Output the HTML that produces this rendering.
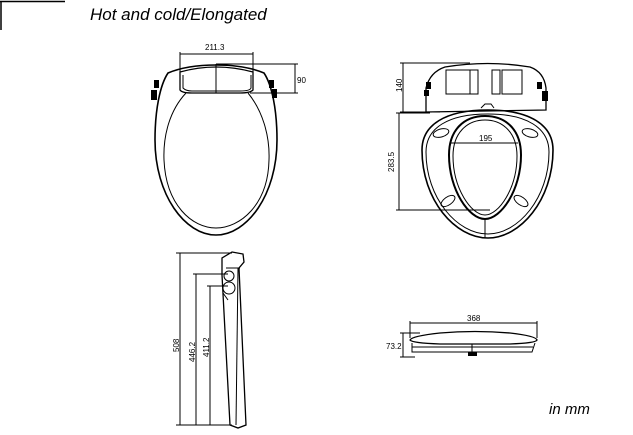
<!DOCTYPE html>
<html><head><style>
html,body{margin:0;padding:0;background:#fff;}
svg{display:block;}
text{font-family:"Liberation Sans",Arial,sans-serif;fill:#000;}
</style></head><body>
<svg width="633" height="435" viewBox="0 0 633 435" xmlns="http://www.w3.org/2000/svg">
<line x1="0" y1="1.5" x2="65" y2="1.5" stroke="#000" stroke-width="1.5"/>
<line x1="1" y1="1" x2="1" y2="30" stroke="#000" stroke-width="1.5"/>
<text x="90" y="20" font-size="17" font-style="italic">Hot and cold/Elongated</text>
<text x="549" y="414" font-size="15" font-style="italic">in mm</text>

<g fill="none" stroke="#000" stroke-width="1">
<!-- top-left seat -->
<path d="M216 65 Q245 65 264 73 C272 85 277 110 277 140 C277 195 247 235 216 235 C185 235 155 195 155 140 C155 110 160 85 168 73 Q187 65 216 65Z" stroke-width="1.6"/>
<path d="M186 93 C170 110 163 135 164 160 C166 205 192 228 216 228 C240 228 268 205 269 160 C270 135 262 110 248 93"/>
<path d="M180 72 Q216 62 253 72 L253 90 Q250 93 240 93 L192 93 Q182 93 180 90Z" stroke-width="1.3"/>
<path d="M183 75 L183 88 Q186 91 192 91 L240 91 Q250 91 251 88 L251 75"/>
<line x1="216" y1="64" x2="216" y2="93"/>
<line x1="180" y1="54" x2="253" y2="54"/><line x1="180" y1="52" x2="180" y2="75"/><line x1="253" y1="52" x2="253" y2="75"/>
<line x1="216" y1="64" x2="298" y2="64"/><line x1="250" y1="93" x2="298" y2="93"/>
<line x1="295" y1="64" x2="295" y2="93"/>
</g>
<rect x="154" y="80" width="5" height="8" fill="#000"/><rect x="151" y="90" width="6" height="10" fill="#000"/>
<rect x="269" y="80" width="5" height="8" fill="#000"/><rect x="272" y="89" width="5" height="9" fill="#000"/>
<text x="205" y="50" font-size="8">211.3</text>
<text x="297" y="83" font-size="8">90</text>

<!-- top-right seat -->
<g fill="none" stroke="#000" stroke-width="1">
<path d="M488 110 C530 110 553 125 553 150 C553 200 520 238 488 238 C455 238 422 200 422 150 C422 125 445 110 488 110Z" stroke-width="1.6"/>
<path d="M488 114 C527 114 549 128 549 152 C549 198 518 234 488 234 C457 234 426 198 426 152 C426 128 448 114 488 114Z"/>
<path d="M485 116 C506 116 521 130 521 155 C521 190 501 219 485 219 C469 219 449 190 449 155 C449 130 464 116 485 116Z" stroke-width="2"/>
<path d="M485 120 C503 120 517 133 517 156 C517 188 499 215 485 215 C471 215 453 188 453 156 C453 133 467 120 485 120Z"/>
<path d="M426 112 L426 88 Q430 72 445 67 Q488 60 530 67 Q544 72 546 88 L546 110 Z" stroke-width="1.3"/>
<rect x="446" y="70" width="24" height="24"/><rect x="502" y="70" width="20" height="24"/>
<rect x="470" y="70" width="8" height="24"/><rect x="492" y="70" width="8" height="24"/>
<path d="M481 108 L485 104 L491 104 L494 108"/>
<ellipse cx="441" cy="133" rx="8" ry="4" transform="rotate(-15 441 133)"/>
<ellipse cx="530" cy="133" rx="8" ry="4" transform="rotate(15 530 133)"/>
<ellipse cx="448" cy="201" rx="8" ry="4" transform="rotate(-35 448 201)"/>
<ellipse cx="521" cy="201" rx="8" ry="4" transform="rotate(35 521 201)"/>
<line x1="451" y1="143" x2="518" y2="143"/>
<line x1="400" y1="63" x2="470" y2="63"/><line x1="400" y1="112" x2="440" y2="112"/>
<line x1="403" y1="63" x2="403" y2="112"/>
<line x1="396" y1="113" x2="430" y2="113"/><line x1="396" y1="210" x2="490" y2="210"/>
<line x1="399" y1="113" x2="399" y2="210"/>
<line x1="485" y1="219" x2="485" y2="238"/>
</g>
<rect x="426" y="82" width="5" height="7" fill="#000"/><rect x="424" y="90" width="5" height="6" fill="#000"/>
<rect x="537" y="82" width="5" height="7" fill="#000"/><rect x="542" y="91" width="6" height="10" fill="#000"/>
<text x="479" y="141" font-size="8">195</text>
<text transform="translate(402 92) rotate(-90)" font-size="8">140</text>
<text transform="translate(394 172) rotate(-90)" font-size="8">283.5</text>

<!-- side view -->
<g fill="none" stroke="#000" stroke-width="1">
<path d="M232 252 L243 254 L244 262 L239 268 L246 425 L238 428 L230 425 L222 275 L222 258 Z" stroke-width="1.3"/>
<path d="M238 268 L236 425"/>
<path d="M226 268 L240 268"/>
<circle cx="229" cy="276" r="5"/><circle cx="229" cy="288" r="6"/>
<path d="M223 293 L228 300"/>
<line x1="176" y1="253" x2="232" y2="253"/><line x1="176" y1="425" x2="232" y2="425"/>
<line x1="180" y1="253" x2="180" y2="425"/>
<line x1="193" y1="274" x2="228" y2="274"/><line x1="196" y1="274" x2="196" y2="425"/>
<line x1="207" y1="286" x2="228" y2="286"/><line x1="210" y1="286" x2="210" y2="425"/>
</g>
<text transform="translate(179 352) rotate(-90)" font-size="8">508</text>
<text transform="translate(195 362) rotate(-90)" font-size="8">446.2</text>
<text transform="translate(209 357) rotate(-90)" font-size="8">411.2</text>

<!-- bottom right -->
<g fill="none" stroke="#000" stroke-width="1">
<path d="M410 340 Q412 336 440 333 Q475 330 510 333 Q536 336 537 340 Q536 343 510 344 L440 344 Q412 343 410 340Z" stroke-width="1.3"/>
<path d="M412 343 L412 352 L532 352 L535 343"/>
<line x1="412" y1="347" x2="533" y2="347"/>
<line x1="410" y1="323" x2="537" y2="323"/><line x1="410" y1="321" x2="410" y2="338"/><line x1="537" y1="321" x2="537" y2="338"/>
<line x1="400" y1="333" x2="420" y2="333"/><line x1="400" y1="357" x2="415" y2="357"/>
<line x1="403" y1="333" x2="403" y2="357"/>
<line x1="472" y1="344" x2="472" y2="354"/>
</g>
<rect x="468" y="352" width="9" height="4" fill="#000"/>
<text x="467" y="321" font-size="8">368</text>
<text x="386" y="349" font-size="8">73.2</text>
</svg>
</body></html>
